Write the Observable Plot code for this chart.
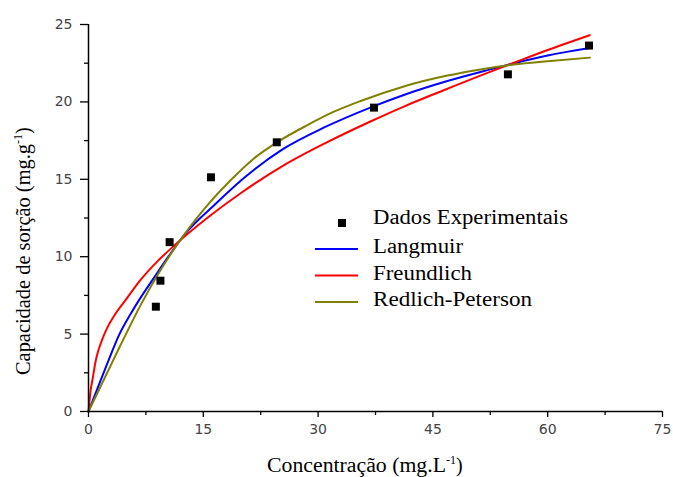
<!DOCTYPE html>
<html>
<head>
<meta charset="utf-8">
<script src="https://cdn.jsdelivr.net/npm/d3@7"></script>
<script src="https://cdn.jsdelivr.net/npm/@observablehq/plot@0.6"></script>
<style>
  html, body { margin: 0; padding: 0; background: #fff; }
  #chart svg { display: block; }
  #chart g[aria-label="x-axis tick label"] text,
  #chart g[aria-label="y-axis tick label"] text { fill: #444; }
</style>
</head>
<body>
<div id="chart"></div>
<script>
// Experimental data
const expC = [8.8, 9.4, 10.6, 16.0, 24.6, 37.3, 54.8, 65.4];
const expQ = [6.77, 8.45, 10.94, 15.13, 17.39, 19.63, 21.78, 23.64];

// Langmuir curve
const langC = [0, 1, 2.5, 4, 5.5, 7, 8.5, 10.5, 12.5, 16.8, 20, 25.5, 30.8, 36.9, 41.2, 46.9, 52.5, 56, 60, 65.5];
const langQ = [0, 1.27, 3.15, 4.95, 6.3, 7.5, 8.6, 10.05, 11.4, 13.5, 14.95, 16.98, 18.35, 19.65, 20.45, 21.35, 22.1, 22.55, 23.0, 23.48];

// Freundlich curve
const freC = [0, 0.26, 0.57, 0.91, 1.2, 1.6, 2.44, 3.5, 4.84, 6.8, 9, 11.16, 15.5, 19.87, 25.5, 31.2, 36.9, 41.2, 46.9, 51.2, 55.6, 60.0, 65.5];
const freQ = [0, 1.3, 2.2, 3.2, 3.8, 4.4, 5.4, 6.3, 7.2, 8.5, 9.7, 10.7, 12.5, 14.1, 15.9, 17.4, 18.75, 19.7, 20.85, 21.7, 22.53, 23.35, 24.31];

// Redlich-Peterson curve
const rpC = [0, 2, 4, 7, 9.5, 12.46, 15.5, 18.6, 21.5, 24.66, 28.6, 32, 35.56, 41.2, 46.9, 51.2, 55.6, 60.0, 65.5];
const rpQ = [0, 2.05, 4.1, 7.05, 9.2, 11.4, 13.3, 14.95, 16.3, 17.4, 18.5, 19.35, 20.06, 21.0, 21.7, 22.1, 22.42, 22.63, 22.86];

const xTicks = [0, 15, 30, 45, 60, 75];
const xMinor = [7.5, 22.5, 37.5, 52.5, 67.5];
const yTicks = [0, 5, 10, 15, 20, 25];
const yMinor = [2.5, 7.5, 12.5, 17.5, 22.5];

const series = [
  {name: "Langmuir", color: "#0000ff", C: langC, Q: langQ, w: 90},
  {name: "Freundlich", color: "#ff0000", C: freC, Q: freQ, w: 99},
  {name: "Redlich-Peterson", color: "#808000", C: rpC, Q: rpQ, w: 159}
];

const expData = expC.map((c, i) => ({c, q: expQ[i]}));
const lineData = series.map(s => s.C.map((c, i) => ({c, q: s.Q[i], name: s.name, color: s.color})));

const W = 673, H = 477;
const mL = 88, mR = 11, mT = 24, mB = 66;

const plot = Plot.plot({
  width: W,
  height: H,
  marginLeft: mL,
  marginRight: mR,
  marginTop: mT,
  marginBottom: mB,
  style: {fontFamily: "DejaVu Sans", fontSize: "14px", background: "#fff", color: "#000"},
  x: {domain: [0, 75]},
  y: {domain: [0, 25]},
  marks: [
    ...lineData.map(d => Plot.line(d, {x: "c", y: "q", stroke: d[0].color, strokeWidth: 2, curve: "monotone-x"})),
    Plot.dot(expData, {x: "c", y: "q", symbol: "square", r: 4.5, fill: "#000", stroke: "none"}),
    Plot.axisX({ticks: xTicks, tickSize: 6, tickPadding: 7, label: null, tickFormat: d => String(d), strokeWidth: 1.3}),
    Plot.axisX({ticks: xMinor, tickSize: 4, label: null, tickFormat: () => "", strokeWidth: 1.3}),
    Plot.axisY({ticks: yTicks, tickSize: 8, tickPadding: 8, label: null, tickFormat: d => String(d), strokeWidth: 1.3}),
    Plot.axisY({ticks: yMinor, tickSize: 4, label: null, tickFormat: () => "", strokeWidth: 1.3}),
    Plot.ruleX([0], {stroke: "#000", strokeWidth: 1.5}),
    Plot.ruleY([0], {stroke: "#000", strokeWidth: 1.5})
  ]
});

document.getElementById("chart").appendChild(plot);

const svg = d3.select(plot);
const serif = "'Liberation Serif', 'Times New Roman', serif";

// X axis title
const xt = svg.append("text")
  .attr("x", 267).attr("y", 472)
  .attr("text-anchor", "start")
  .attr("font-family", serif).attr("font-size", 20).attr("fill", "#000");
xt.append("tspan").attr("textLength", 179).attr("lengthAdjust", "spacingAndGlyphs").text("Concentração (mg.L");
xt.append("tspan").attr("dy", -8).attr("font-size", 12).text("-1");
xt.append("tspan").attr("dy", 8).text(")");

// Y axis title
const yt = svg.append("text")
  .attr("transform", "translate(30,375) rotate(-90)")
  .attr("text-anchor", "start")
  .attr("font-family", serif).attr("font-size", 20).attr("fill", "#000");
yt.append("tspan").attr("textLength", 231).attr("lengthAdjust", "spacingAndGlyphs").text("Capacidade de sorção (mg.g");
yt.append("tspan").attr("dy", -8).attr("font-size", 12).text("-1");
yt.append("tspan").attr("dy", 8).text(")");

// Legend
const lg = svg.append("g").attr("font-family", serif).attr("font-size", 20).attr("fill", "#000").attr("text-anchor", "start");
lg.append("rect").attr("x", 338).attr("y", 219).attr("width", 8).attr("height", 8).attr("fill", "#000");
lg.append("text").attr("x", 373).attr("y", 217).attr("dy", "0.35em").attr("text-anchor", "start")
  .attr("textLength", 195).attr("lengthAdjust", "spacingAndGlyphs").text("Dados Experimentais");
series.forEach((s, i) => {
  const yy = 249 + i * 26.5;
  lg.append("line").attr("x1", 315).attr("x2", 358).attr("y1", yy).attr("y2", yy)
    .attr("stroke", s.color).attr("stroke-width", 2);
  lg.append("text").attr("x", 373).attr("y", yy - 3).attr("dy", "0.35em").attr("text-anchor", "start")
    .attr("textLength", s.w).attr("lengthAdjust", "spacingAndGlyphs").text(s.name);
});
</script>
</body>
</html>
